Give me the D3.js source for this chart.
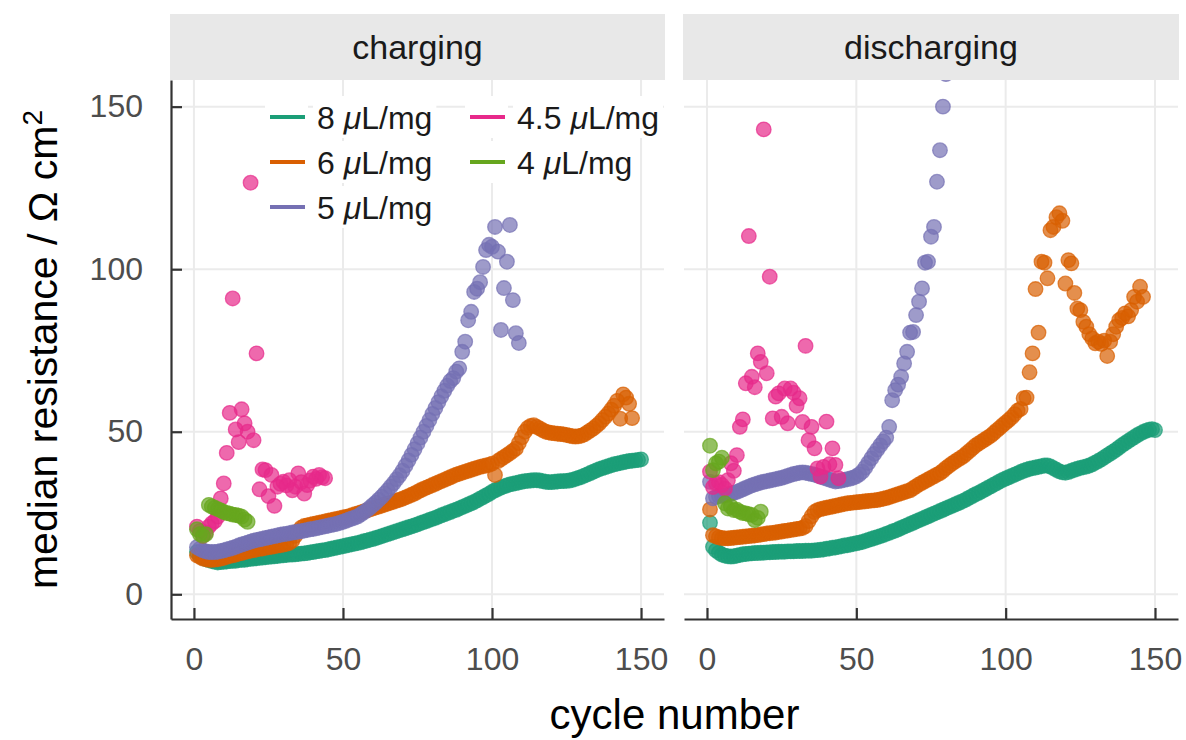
<!DOCTYPE html>
<meta charset="utf-8">
<html>
<head>
<script src="https://d3js.org/d3.v7.min.js"></script>
<style>
  body { margin: 0; background: #fff; }
  svg text { font-family: "Liberation Sans", Arial, Helvetica, sans-serif; }
</style>
</head>
<body>
<div id="chart"></div>
<script>
// median resistance per cycle, value i belongs to cycle i + 1
var chg8 = [13.0,11.8,11.2,10.8,10.5,10.2,10.0,9.8,9.9,10.0,
  10.1,10.2,10.3,10.3,10.5,10.6,10.6,10.8,10.9,11.0,
  11.1,11.2,11.3,11.4,11.5,11.6,11.7,11.8,11.9,12.0,
  12.1,12.2,12.2,12.3,12.4,12.5,12.6,12.7,12.9,13.0,
  13.2,13.3,13.5,13.6,13.8,14.0,14.2,14.4,14.6,14.8,
  15.0,15.2,15.4,15.6,15.8,16.0,16.3,16.5,16.8,17.0,
  17.3,17.6,17.9,18.2,18.5,18.8,19.1,19.4,19.7,20.0,
  20.3,20.6,20.9,21.2,21.5,21.9,22.2,22.5,22.9,23.2,
  23.5,23.9,24.3,24.6,25.0,25.3,25.7,26.0,26.4,26.8,
  27.2,27.6,28.0,28.4,28.9,29.4,29.9,30.4,30.9,31.5,
  32.0,32.4,32.8,33.2,33.5,33.8,34.0,34.2,34.4,34.6,
  34.8,34.9,35.0,35.1,35.1,35.0,34.8,34.6,34.5,34.5,
  34.6,34.7,34.8,34.8,34.9,35.0,35.2,35.5,35.8,36.1,
  36.5,36.9,37.3,37.7,38.1,38.5,38.8,39.1,39.4,39.7,
  40.0,40.2,40.4,40.6,40.8,41.0,41.1,41.2,41.3,41.5];
var chg6 = [12.0,11.5,11.0,10.8,10.6,10.6,10.7,10.8,11.0,11.2,
  11.5,11.8,12.0,12.2,12.5,12.7,13.0,13.2,13.4,13.6,
  13.8,14.0,14.1,14.3,14.5,14.6,14.8,15.0,15.1,15.3,
  15.5,15.8,16.5,18.0,19.5,20.5,21.0,21.2,21.4,21.6,
  21.8,22.0,22.2,22.4,22.6,22.8,23.0,23.2,23.4,23.6,
  23.8,24.0,24.3,24.6,24.9,25.2,25.5,25.8,26.1,26.4,
  26.7,27.0,27.3,27.6,27.9,28.2,28.5,28.8,29.1,29.4,
  29.8,30.2,30.6,31.0,31.5,32.0,32.4,32.8,33.2,33.6,
  34.0,34.4,34.8,35.2,35.6,36.0,36.4,36.8,37.1,37.4,
  37.7,38.0,38.3,38.6,38.9,39.2,39.4,39.6,39.8,40.2,
  36.7,41.0,41.6,42.2,42.8,43.4,44.1,44.8,46.5,48.3,
  50.0,51.2,51.8,52.0,51.5,51.0,50.5,50.0,49.8,49.6,
  49.5,49.4,49.3,49.2,49.0,48.8,48.6,48.5,48.6,48.8,
  49.2,49.8,50.4,51.0,51.8,52.6,53.6,54.6,55.6,56.8,
  58.0,59.5,54.0,61.5,60.5,58.6,54.2];
var chg5 = [14.5,14.0,13.5,13.2,13.0,13.0,13.0,13.1,13.3,13.5,
  13.8,14.0,14.3,14.6,15.0,15.3,15.6,15.9,16.2,16.5,
  16.7,16.9,17.1,17.3,17.5,17.7,17.9,18.1,18.3,18.5,
  18.6,18.8,19.0,19.1,19.3,19.4,19.6,19.8,20.0,20.1,
  20.3,20.5,20.7,20.9,21.1,21.3,21.5,21.7,22.0,22.3,
  22.6,23.0,23.3,23.6,24.0,24.6,25.2,25.9,26.6,27.4,
  28.2,29.1,30.0,31.0,32.0,33.1,34.2,35.4,36.6,38.0,
  39.6,41.2,42.9,44.6,46.4,48.2,50.0,51.8,53.6,55.5,
  57.3,59.1,60.9,62.6,64.2,65.6,66.5,68.5,69.5,74.6,
  77.7,84.3,86.9,93.0,94.0,96.0,100.7,105.9,107.5,106.9,
  113.0,105.4,81.3,94.2,102.3,113.6,90.5,80.3,77.3];
var chg45 = [20.8,19.5,18.0,19.0,20.8,21.8,22.5,23.9,29.5,34.1,
  43.5,55.8,91.0,50.7,46.8,56.9,52.6,50.0,126.6,47.4,
  74.1,32.3,38.4,38.2,30.2,36.7,27.2,33.1,34.0,34.6,
  33.5,35.1,32.0,33.1,37.2,34.5,31.0,33.6,35.0,36.2,
  35.5,36.7,36.0,35.7];
var chg4 = [20.0,18.5,18.0,18.5,27.5,27.0,26.6,26.2,25.8,25.3,
  25.0,24.8,24.5,24.4,24.2,23.9,23.0,22.3];

var dis8 = [22.0,14.6,13.5,12.8,12.2,11.9,11.7,11.6,11.7,11.9,
  12.1,12.3,12.4,12.5,12.6,12.7,12.7,12.8,12.8,12.9,
  12.9,13.0,13.0,13.1,13.1,13.1,13.2,13.2,13.2,13.3,
  13.3,13.3,13.4,13.4,13.4,13.5,13.6,13.7,13.8,14.0,
  14.1,14.3,14.4,14.6,14.8,15.0,15.1,15.3,15.5,15.7,
  15.9,16.1,16.4,16.7,17.0,17.3,17.6,17.9,18.2,18.6,
  18.9,19.3,19.6,20.0,20.4,20.8,21.2,21.6,22.0,22.4,
  22.8,23.2,23.6,24.0,24.4,24.8,25.2,25.6,26.0,26.4,
  26.8,27.2,27.6,28.0,28.4,28.8,29.3,29.8,30.3,30.8,
  31.2,31.7,32.2,32.7,33.2,33.7,34.2,34.7,35.2,35.6,
  36.0,36.4,36.8,37.2,37.6,38.0,38.3,38.6,38.8,39.0,
  39.2,39.4,39.6,39.6,39.3,38.8,38.3,37.8,37.5,37.4,
  37.6,38.0,38.3,38.6,38.9,39.1,39.3,39.6,40.0,40.5,
  41.0,41.5,42.1,42.7,43.3,43.9,44.5,45.2,45.9,46.5,
  47.1,47.7,48.3,48.9,49.4,49.9,50.3,50.6,50.8,50.5];
var dis6 = [26.1,18.2,17.8,17.5,17.3,17.2,17.2,17.3,17.4,17.5,
  17.6,17.7,17.8,17.9,18.0,18.1,18.2,18.4,18.5,18.7,
  18.8,18.9,19.0,19.2,19.3,19.5,19.6,19.8,19.9,20.1,
  20.2,20.4,21.0,22.5,24.0,25.3,25.9,26.2,26.4,26.6,
  26.8,27.0,27.2,27.4,27.6,27.8,28.0,28.1,28.2,28.3,
  28.4,28.5,28.6,28.7,28.8,28.9,29.0,29.2,29.4,29.6,
  29.9,30.2,30.5,30.8,31.1,31.4,31.7,32.0,32.6,33.2,
  33.8,34.3,34.8,35.3,35.8,36.3,36.8,37.3,38.0,38.8,
  39.5,40.2,40.8,41.4,42.0,42.6,43.4,44.2,45.0,45.8,
  46.4,47.0,47.6,48.2,48.8,49.6,50.4,51.2,52.0,52.8,
  53.6,54.4,55.4,56.5,57.0,60.3,60.5,68.3,74.1,93.9,
  80.5,102.3,102.0,97.2,112.0,113.0,116.0,117.2,114.9,95.6,
  102.8,101.8,92.7,87.9,87.4,83.8,82.3,80.0,78.7,77.2,
  77.7,77.0,78.0,73.3,77.7,80.0,82.3,84.3,85.0,86.4,
  85.5,87.4,91.5,90.0,94.6,91.5];
var dis5 = [34.6,29.5,30.0,30.2,30.3,30.4,30.6,30.9,31.2,31.5,
  31.9,32.3,32.7,33.1,33.5,33.8,34.1,34.4,34.6,34.8,
  35.0,35.2,35.4,35.6,35.8,36.1,36.4,36.7,37.0,37.2,
  37.4,37.5,37.4,37.2,37.0,36.8,36.5,36.2,35.9,35.6,
  35.3,35.0,34.7,34.8,35.0,35.2,35.4,35.6,35.9,36.3,
  36.9,37.7,39.0,40.4,41.8,43.2,44.5,45.8,47.0,48.2,
  51.5,59.7,62.8,64.5,66.9,71.0,74.6,80.5,80.7,85.9,
  90.0,94.1,102.0,102.3,110.0,113.0,126.9,136.6,150.0,160.0];
var dis45 = [37.7,33.0,34.1,34.5,33.6,32.5,35.1,40.3,38.0,42.8,
  51.5,53.8,64.9,110.2,66.9,63.7,74.1,71.5,143.0,68.0,
  97.7,54.1,60.8,61.8,54.6,63.3,52.6,63.3,62.0,58.0,
  60.3,53.0,76.4,47.4,51.5,44.9,38.7,36.2,39.2,53.1,
  40.0,44.9,39.8,35.7];
var dis4 = [45.7,38.2,40.3,40.8,42.0,28.0,26.4,27.0,25.9,26.0,
  25.4,25.0,24.9,24.6,24.4,22.8,23.5,25.4];

var seriesNames = ["8", "6", "5", "4.5", "4"];
var seriesColors = ["#1b9e77", "#d95f02", "#7570b3", "#e7298a", "#66a61e"];
var facetNames = ["charging", "discharging"];
var xTicks = [0, 50, 100, 150];
var yTicks = [0, 50, 100, 150];

var width = 1186, height = 740;
var panelTop = 80, panelBottom = 619;
var grid = "#ebebeb", ink = "#333333";

var svg = d3.select("#chart").append("svg")
    .attr("width", width)
    .attr("height", height);

svg.append("rect").attr("width", width).attr("height", height).attr("fill", "#fff");

var panels = [
    {name: facetNames[0], left: 171, right: 664, series: [chg8, chg6, chg5, chg45, chg4]},
    {name: facetNames[1], left: 684, right: 1178, series: [dis8, dis6, dis5, dis45, dis4]}
];

var y = d3.scaleLinear().domain([-7.6, 158.2]).range([panelBottom, panelTop]);

panels.forEach(function(p, pi) {
    var x = d3.scaleLinear().domain([-7.7, 157.7]).range([p.left, p.right]);
    var g = svg.append("g");

    g.append("clipPath").attr("id", "clip" + pi)
        .append("rect")
        .attr("x", p.left).attr("y", panelTop)
        .attr("width", p.right - p.left).attr("height", panelBottom - panelTop);

    // grid
    g.append("g").selectAll("line").data(xTicks).join("line")
        .attr("x1", d => x(d)).attr("x2", d => x(d))
        .attr("y1", panelTop).attr("y2", panelBottom)
        .attr("stroke", grid).attr("stroke-width", 2);
    g.append("g").selectAll("line").data(yTicks).join("line")
        .attr("x1", p.left).attr("x2", p.right)
        .attr("y1", d => y(d)).attr("y2", d => y(d))
        .attr("stroke", grid).attr("stroke-width", 2);

    // points
    var pts = g.append("g").attr("clip-path", "url(#clip" + pi + ")");
    p.series.forEach(function(vals, si) {
        pts.append("g")
            .selectAll("circle")
            .data(vals.map((v, i) => ({cycle: i + 1, value: v})))
            .join("circle")
            .attr("cx", d => x(d.cycle))
            .attr("cy", d => y(d.value))
            .attr("r", 7.3)
            .attr("fill", seriesColors[si])
            .attr("fill-opacity", 0.7)
            .attr("stroke", seriesColors[si])
            .attr("stroke-opacity", 0.7)
            .attr("stroke-width", 1.3);
    });

    // strip
    g.append("rect")
        .attr("x", p.left - 1).attr("y", 14)
        .attr("width", p.right - p.left + 2).attr("height", panelTop - 14)
        .attr("fill", "#e8e8e8");
    g.append("text")
        .attr("x", (p.left + p.right) / 2).attr("y", 47)
        .attr("dy", "0.35em")
        .attr("text-anchor", "middle")
        .attr("font-size", 34)
        .attr("fill", "#1a1a1a")
        .text(p.name);

    // x axis
    var xa = g.append("g")
        .attr("transform", "translate(0," + panelBottom + ")")
        .call(d3.axisBottom(x).tickValues(xTicks).tickSize(-11).tickSizeOuter(0).tickPadding(28));
    xa.attr("font-family", null).attr("font-size", null);
    xa.select(".domain").attr("stroke", ink).attr("stroke-width", 2.2);
    xa.selectAll(".tick line").attr("stroke", ink).attr("stroke-width", 2.2);
    xa.selectAll(".tick text").attr("font-size", 32).attr("fill", "#4d4d4d");

    if (pi === 0) {
        var ya = g.append("g")
            .attr("transform", "translate(" + p.left + ",0)")
            .call(d3.axisLeft(y).tickValues(yTicks).tickSize(-11).tickSizeOuter(0).tickPadding(28));
        ya.attr("font-family", null).attr("font-size", null);
        ya.select(".domain").attr("stroke", ink).attr("stroke-width", 2.2);
        ya.selectAll(".tick line").attr("stroke", ink).attr("stroke-width", 2.2);
        ya.selectAll(".tick text").attr("font-size", 32).attr("fill", "#4d4d4d");
    }
});

// legend, two columns, filled column first
var legend = svg.append("g");
seriesNames.forEach(function(name, i) {
    var col = i < 3 ? 0 : 1;
    var row = i < 3 ? i : i - 3;
    var lx = col === 0 ? 265 : 465;
    var ly = 117 + row * 45;
    var item = legend.append("g").attr("transform", "translate(" + lx + "," + ly + ")");
    item.append("rect").attr("x", 0).attr("y", -21).attr("width", 43).attr("height", 42).attr("fill", "#fff");
    var label = item.append("text")
        .attr("x", 52).attr("dy", "0.36em")
        .attr("font-size", 32)
        .attr("fill", "#1a1a1a");
    label.append("tspan").text(name + " ");
    label.append("tspan").attr("font-style", "italic").text("\u03bc");
    label.append("tspan").text("L/mg");
    var w = label.node().getComputedTextLength();
    item.insert("rect", "text").attr("x", 48).attr("y", -21).attr("width", w + 8).attr("height", 42).attr("fill", "#fff");
    item.append("line")
        .attr("x1", 5).attr("x2", 40)
        .attr("stroke", seriesColors[i]).attr("stroke-width", 4);
});

// axis titles
svg.append("text")
    .attr("x", (171 + 1178) / 2).attr("y", 729)
    .attr("text-anchor", "middle")
    .attr("font-size", 42)
    .attr("fill", "#000")
    .text("cycle number");

var yt = svg.append("text")
    .attr("transform", "translate(57," + ((panelTop + panelBottom) / 2) + ") rotate(-90)")
    .attr("text-anchor", "middle")
    .attr("font-size", 41)
    .attr("fill", "#000");
yt.append("tspan").text("median resistance / \u03a9 cm");
yt.append("tspan").attr("font-size", 28).attr("dy", "-0.55em").text("2");
</script>
</body>
</html>
